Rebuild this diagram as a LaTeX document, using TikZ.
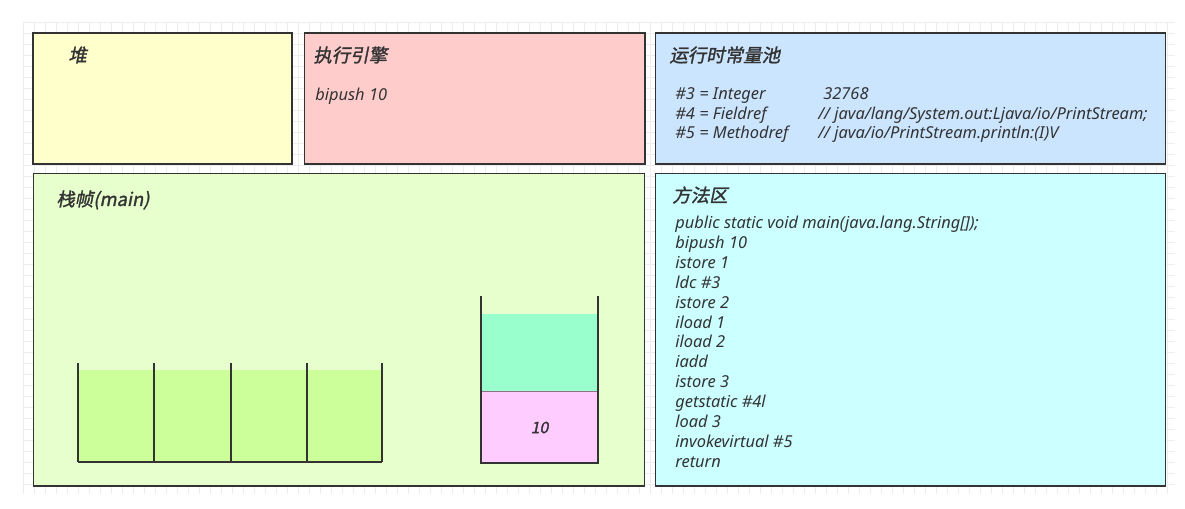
\documentclass[tikz,border=0pt]{standalone}
\usepackage{fontspec}
\setmainfont{Noto Sans}
\newfontfamily\cjk[FakeSlant=0.2,FakeBold=1.5]{Noto Sans CJK SC}
\usetikzlibrary{positioning}
\definecolor{heapyellow}{HTML}{FFFFCC}
\definecolor{enginepink}{HTML}{FFCCCC}
\definecolor{poolblue}{HTML}{CCE5FF}
\definecolor{framegreen}{HTML}{E6FFCC}
\definecolor{methodcyan}{HTML}{CCFFFF}
\definecolor{slotgreen}{HTML}{CCFF99}
\definecolor{stacktop}{HTML}{99FFCC}
\definecolor{stackpink}{HTML}{FFCCFF}
\definecolor{inkgray}{HTML}{333333}

\begin{document}
\begin{tikzpicture}[
    x=0.02cm, y=-0.02cm,
    panel/.style={rectangle, draw=inkgray, line width=0.6pt, fill=#1, inner sep=0pt},
    title/.style={anchor=west, inner sep=0pt, text=inkgray,
                  font=\cjk\fontsize{10.5}{12}\selectfont},
    code/.style={anchor=north west, inner sep=0pt, align=left, text=inkgray,
                 font=\itshape\fontsize{9.35}{11.3}\selectfont},
    wall/.style={draw=inkgray, line width=1.2pt},
    gridline/.style={draw=black!7, line width=0.4pt}
]
    \useasboundingbox (0,0) rectangle (1185,508);

    % Background grid
    \foreach \gx in {23,34,...,1175} \draw[gridline] (\gx,22) -- (\gx,494);
    \foreach \gy in {22,33,...,494} \draw[gridline] (23,\gy) -- (1175,\gy);

    % Panels
    \node[panel=heapyellow, minimum width=5.18cm, minimum height=2.62cm] (heap) at (162.5,98.5) {};
    \node[panel=enginepink, minimum width=6.82cm, minimum height=2.62cm] (engine) at (474.5,98.5) {};
    \node[panel=poolblue, minimum width=10.22cm, minimum height=2.62cm] (pool) at (910.5,98.5) {};
    \node[panel=framegreen, minimum width=12.24cm, minimum height=6.26cm] (frame) at (339,329.5) {};
    \node[panel=methodcyan, minimum width=10.22cm, minimum height=6.26cm] (method) at (910.5,329.5) {};

    % Titles
    \node[title] (heaptitle) at (68,55) {堆};
    \node[title] (enginetitle) at (313,55) {执行引擎};
    \node[title] (pooltitle) at (669,55) {运行时常量池};
    \node[title] (frametitle) at (56,200) {栈帧(main)};
    \node[title] (methodtitle) at (672,195) {方法区};

    % Texts
    \node[code] (enginecode) at (315,88) {bipush 10};
    \node[code] (poolkeys) at (675,87) {\#3 = Integer\\\#4 = Fieldref\\\#5 = Methodref};
    \node[code] (poolvals) at (818,87) {\hspace{0.3em}32768\\// java/lang/System.out:Ljava/io/PrintStream;\\// java/io/PrintStream.println:(I)V};
    \node[code] (methodcode) at (675,216) {public static void main(java.lang.String[]);\\bipush 10\\istore 1\\ldc \#3\\istore 2\\iload 1\\iload 2\\iadd\\istore 3\\getstatic \#4l\\load 3\\invokevirtual \#5\\return};

    % Local variable table
    \fill[slotgreen] (78,370) rectangle (382,462);
    \foreach \sx in {78,154,231,307,382} \draw[wall] (\sx,363) -- (\sx,462);
    \draw[wall] (78,462) -- (382,462);

    % Operand stack
    \fill[stacktop] (481,314) rectangle (598,392);
    \node[rectangle, fill=stackpink, inner sep=0pt, minimum width=2.34cm, minimum height=1.42cm,
          font=\cjk\fontsize{9}{11}\selectfont, text=inkgray] (slotten) at (539.5,427.5) {10};
    \draw[draw=black!45!stackpink, line width=0.6pt] (slotten.north west) -- (slotten.north east);
    \draw[wall] (481,296) -- (481,463) -- (598,463) -- (598,296);
\end{tikzpicture}
\end{document}
